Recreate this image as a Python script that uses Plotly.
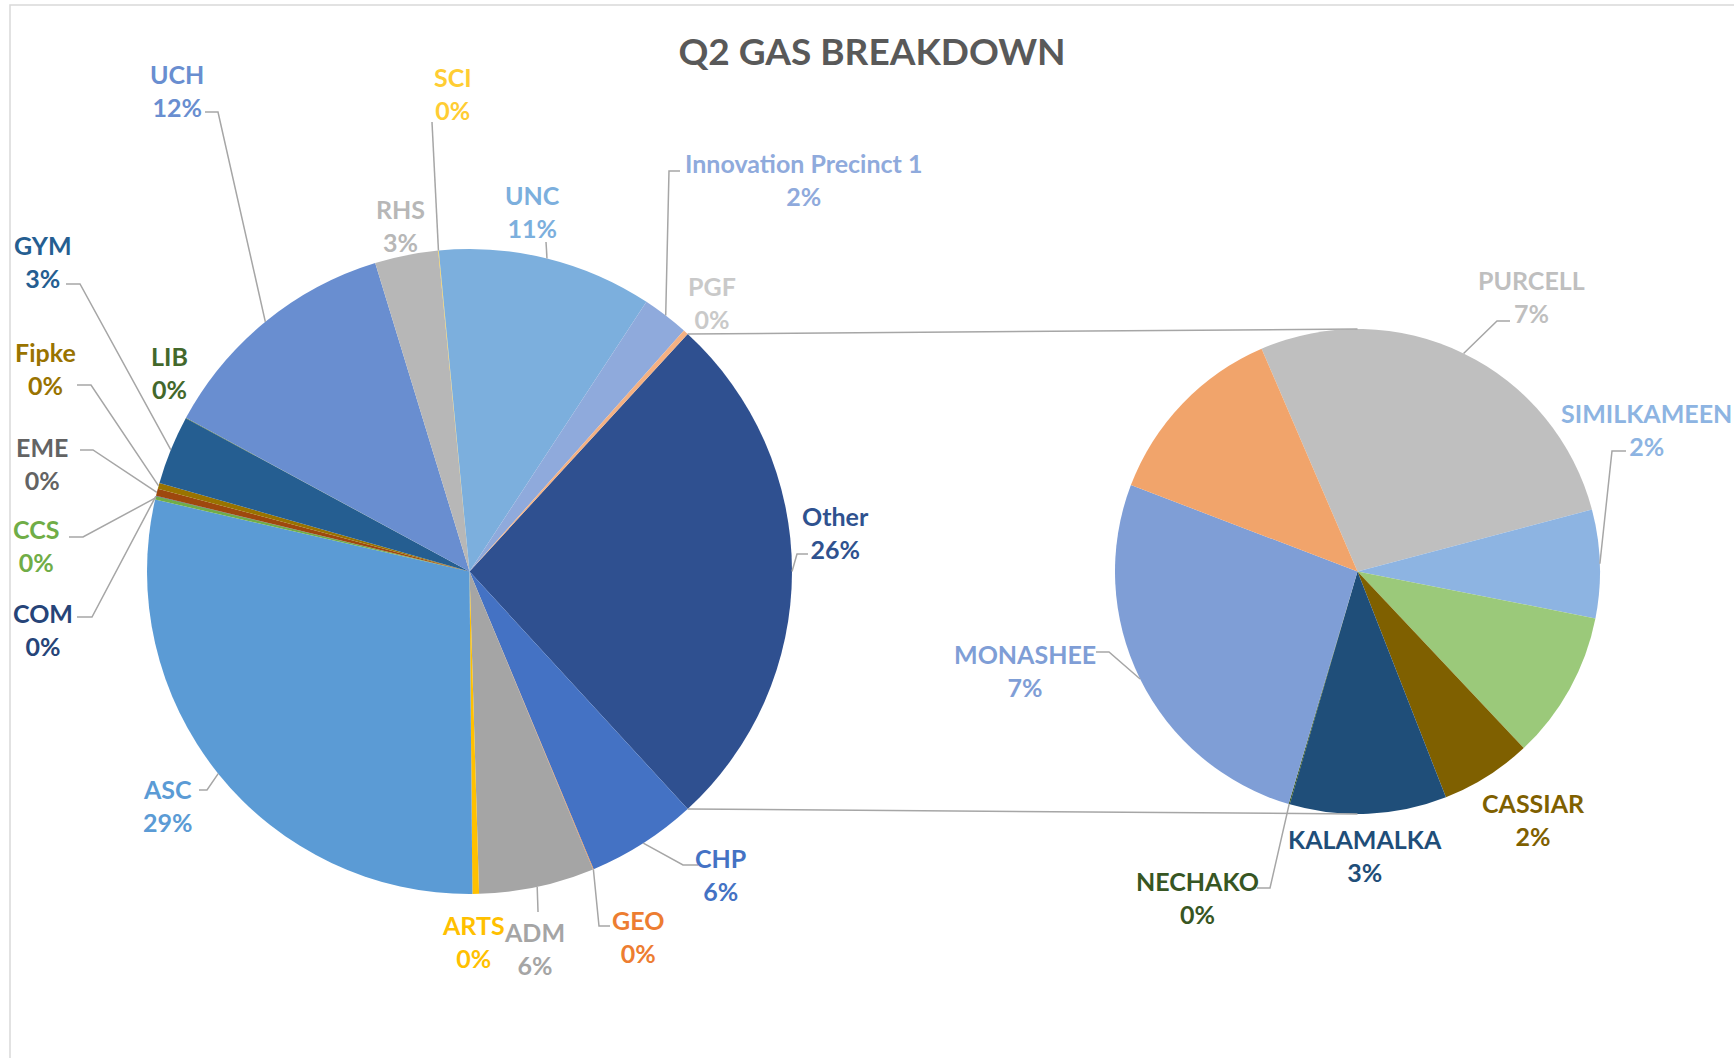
import math
import plotly.graph_objects as go

# ---- data (percent of total gas) ----
main_names = ['CHP', 'GEO', 'ADM', 'ARTS', 'ASC', 'CCS', 'COM', 'EME', 'Fipke', 'GYM',
              'LIB', 'UCH', 'RHS', 'SCI', 'UNC', 'Innovation Precinct 1', 'PGF']
main_values = [5.53, 0.03, 5.78, 0.33, 28.69, 0.17, 0.02, 0.36, 0.30, 3.45,
               0.02, 12.36, 3.17, 0.03, 10.75, 2.33, 0.25]

# buildings grouped into "Other" (second pie); two slices carry no label in the original
sec_names = ['PURCELL', 'SIMILKAMEEN', None, 'CASSIAR', 'KALAMALKA', 'NECHAKO', 'MONASHEE', None]
sec_values = [7.2, 1.9, 2.6, 1.6, 2.75, 0.02, 6.9, 3.35]

other_value = sum(sec_values)
pie_names = ['Other'] + main_names
pie_values = [other_value] + main_values
total = sum(pie_values)

# ---- styling ----
main_colors = ['#2F5090', '#4472C4', '#ED7D31', '#A5A5A5', '#FFC000', '#5B9BD5', '#70AD47', '#264478',
               '#9E480E', '#997300', '#255E91', '#43682B', '#698ED0', '#B7B7B7', '#FFCD33', '#7CAFDD',
               '#8FAADC', '#F4B183']
sec_colors = ['#BFBFBF', '#8DB4E2', '#9BC97A', '#7F6000', '#1F4E79', '#375623', '#7F9ED6', '#F1A46B']

label_colors = {'Other': '#2F528F', 'CHP': '#4472C4', 'GEO': '#ED7D31', 'ADM': '#A5A5A5', 'ARTS': '#FFC000',
                'ASC': '#5B9BD5', 'CCS': '#70AD47', 'COM': '#264478', 'EME': '#636363', 'Fipke': '#997300',
                'GYM': '#255E91', 'LIB': '#43682B', 'UCH': '#698ED0', 'RHS': '#B7B7B7', 'SCI': '#FFCD33',
                'UNC': '#7CAFDD', 'Innovation Precinct 1': '#8FAADC', 'PGF': '#C9C9C9',
                'PURCELL': '#BFBFBF', 'SIMILKAMEEN': '#8DB4E2', 'CASSIAR': '#7F6000', 'KALAMALKA': '#1F4E79',
                'NECHAKO': '#375623', 'MONASHEE': '#7F9ED6'}

W, H = 1734, 1058
main_c, main_r = (469.5, 571.5), 322.5
sec_c, sec_r = (1357.5, 571.5), 242.5
sec_rotation = -23.3
connector_angles = (0, 180)

# label block centres and leader line anchors, in pixels
label_pos = {'UCH': (177, 90), 'SCI': (453, 94), 'RHS': (400, 225), 'UNC': (532, 211),
             'Innovation Precinct 1': (803, 180), 'PGF': (712, 302), 'GYM': (43, 261), 'Fipke': (45, 368),
             'LIB': (169, 373), 'EME': (42, 464), 'CCS': (36, 545), 'COM': (43, 629), 'ASC': (168, 805),
             'ARTS': (473, 941), 'ADM': (534, 948), 'GEO': (638, 936), 'CHP': (720, 874), 'Other': (835, 532),
             'PURCELL': (1531, 296), 'SIMILKAMEEN': (1646, 429), 'CASSIAR': (1533, 819),
             'KALAMALKA': (1365, 855), 'NECHAKO': (1197, 897), 'MONASHEE': (1025, 670)}
leaders = {'UCH': [(205, 112), (218, 112)], 'SCI': [(432, 122)], 'UNC': [(546, 242)],
           'Innovation Precinct 1': [(680, 171), (669, 171)], 'GYM': [(66, 284), (80, 284)],
           'Fipke': [(77, 385), (91, 385)], 'EME': [(80, 450), (93, 450)], 'CCS': [(69, 537), (83, 537)],
           'COM': [(77, 617), (92, 617)], 'ASC': [(199, 790), (207, 790)], 'ADM': [(538, 912)],
           'GEO': [(610, 926), (599, 926)], 'CHP': [(698, 865), (683, 865)], 'Other': [(808, 554), (797, 554)],
           'PURCELL': [(1510, 321), (1497, 321)], 'SIMILKAMEEN': [(1626, 451), (1612, 451)],
           'NECHAKO': [(1257, 888), (1270, 888)], 'MONASHEE': [(1096, 652), (1109, 652)]}

font_family = 'Lato, Carlito, Calibri, sans-serif'
line_color = '#A6A6A6'


def to_paper(p):
  return p[0] / W, 1 - p[1] / H


def domain(c, r):
  return dict(x=[(c[0] - r) / W, (c[0] + r) / W], y=[1 - (c[1] + r) / H, 1 - (c[1] - r) / H])


def edge(c, r, ang):
  a = math.radians(ang)
  return c[0] + r * math.sin(a), c[1] - r * math.cos(a)


def slice_angles(values, rotation):
  out = []
  start = rotation
  tot = sum(values)
  for v in values:
    span = v / tot * 360
    out.append((start, start + span))
    start += span
  return out


# "Other" faces the second pie
main_rotation = 90 - other_value / total * 180

fig = go.Figure()
fig.add_trace(go.Pie(values=pie_values, labels=pie_names, sort=False, direction='clockwise',
                     rotation=main_rotation, marker=dict(colors=main_colors), textinfo='none',
                     hoverinfo='label+percent', domain=domain(main_c, main_r), showlegend=False))
fig.add_trace(go.Pie(values=sec_values, sort=False, direction='clockwise', rotation=sec_rotation,
                     marker=dict(colors=sec_colors), textinfo='none', hoverinfo='percent',
                     domain=domain(sec_c, sec_r), showlegend=False))

shapes = []
annotations = []


def add_labels(names, values, angles, c, r):
  for name, v, (a0, a1) in zip(names, values, angles):
    if name is None:
      continue
    px, py = to_paper(label_pos[name])
    pct = round(v / total * 100)
    annotations.append(dict(text=f'<b>{name}</b><br><b>{pct}%</b>', x=px, y=py, xref='paper', yref='paper',
                            showarrow=False, xanchor='center', yanchor='middle',
                            font=dict(family=font_family, size=25, color=label_colors[name])))
    if name in leaders:
      pts = leaders[name] + [edge(c, r, (a0 + a1) / 2)]
      path = 'M ' + ' L '.join(f'{to_paper(p)[0]:.5f} {to_paper(p)[1]:.5f}' for p in pts)
      shapes.append(dict(type='path', path=path, xref='paper', yref='paper',
                         line=dict(color=line_color, width=1.5)))


main_angles = slice_angles(pie_values, main_rotation)
sec_angles = slice_angles(sec_values, sec_rotation)
add_labels(pie_names, pie_values, main_angles, main_c, main_r)
add_labels(sec_names, sec_values, sec_angles, sec_c, sec_r)

# connector lines between the "Other" slice and the second pie
other_start, other_end = main_angles[0]
for a_main, a_sec in [(other_start, connector_angles[0]), (other_end, connector_angles[1])]:
  x0, y0 = to_paper(edge(main_c, main_r, a_main))
  x1, y1 = to_paper(edge(sec_c, sec_r, a_sec))
  shapes.append(dict(type='line', x0=x0, y0=y0, x1=x1, y1=y1, xref='paper', yref='paper',
                     line=dict(color=line_color, width=1.5)))

# chart area border (only the top and left edges are visible)
shapes.append(dict(type='rect', x0=10 / W, y0=-0.05, x1=1.05, y1=1 - 5 / H, xref='paper', yref='paper',
                   line=dict(color='#D9D9D9', width=1.5)))

fig.update_layout(width=W, height=H, autosize=False, margin=dict(l=0, r=0, t=0, b=0),
                  paper_bgcolor='white', plot_bgcolor='white', shapes=shapes, annotations=annotations,
                  title=dict(text='<b>Q2 GAS BREAKDOWN</b>', x=872 / W, xanchor='center', y=1 - 52 / H,
                             yanchor='middle', font=dict(family=font_family, size=37, color='#595959')))

fig.write_html('out.html', config={'displayModeBar': False},
               post_script="document.body.style.margin='0';document.body.style.overflow='hidden';")
